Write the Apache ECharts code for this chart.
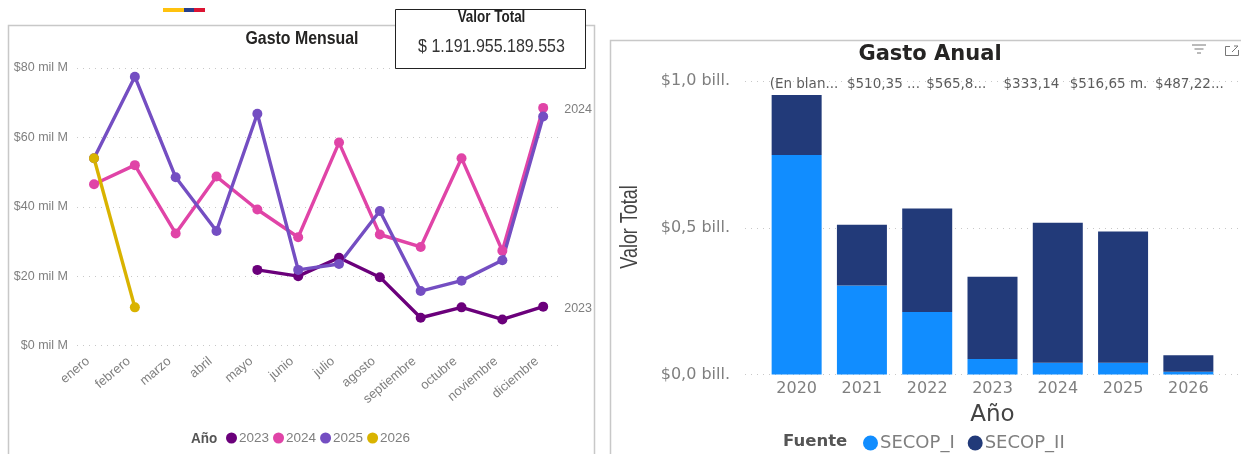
<!DOCTYPE html>
<html><head><meta charset="utf-8">
<style>html,body{margin:0;padding:0;background:#fff}#c{width:1241px;height:454px}</style>
<script src="https://cdn.jsdelivr.net/npm/echarts@6/dist/echarts.min.js"></script>
</head><body><div id="c"></div>
<script>
const months = ['enero','febrero','marzo','abril','mayo','junio','julio','agosto','septiembre','octubre','noviembre','diciembre'];
const gasto2023 = [null,null,null,null,21.8,20,25.3,19.7,8,11,7.5,11.2];
const gasto2024 = [46.5,52,32.3,48.7,39.2,31.2,58.5,32,28.4,54,27.3,68.5];
const gasto2025 = [54,77.5,48.5,33,66.8,21.8,23.5,38.8,15.7,18.7,24.6,66];
const gasto2026 = [54,11,null,null,null,null,null,null,null,null,null,null];
const years = ['2020','2021','2022','2023','2024','2025','2026'];
const secopI = [0.748,0.303,0.213,0.053,0.04,0.04,0.009];
const secopII = [0.204,0.207,0.353,0.28,0.477,0.447,0.057];
const topLabels = ['(En blan...','$510,35 ...','$565,8...','$333,14','$516,65 m.','$487,22...',''];
const topLabelShift = [-27,-15,-1,11,12,32,0];
const sans = '"Liberation Sans",sans-serif';
const wide = '"DejaVu Sans",sans-serif';
const grayT = '#7f7f7f';
const dots = {type:[1,5],color:'#c8c8c8',width:1};

function lineSeries(name, data, color, endLabel){
  return {name, type:'line', xAxisIndex:0, yAxisIndex:0, data, symbol:'circle', symbolSize:10,
    connectNulls:false, lineStyle:{color,width:3.4}, itemStyle:{color},
    endLabel: endLabel ? {show:true, formatter:name, color:grayT, fontFamily:sans, fontSize:12.5, distance:21, offset:[0,2]} : {show:false}};
}
const chart = echarts.init(document.getElementById('c'), null, {renderer:'canvas'});
chart.setOption({
  animation:false,
  graphic:[
    {type:'rect',z:-5,shape:{x:8.5,y:25.5,width:586,height:440},style:{fill:'#fff',stroke:'#c8c8c8',lineWidth:1.5}},
    {type:'rect',z:-5,shape:{x:610.5,y:40.5,width:640,height:430},style:{fill:'#fff',stroke:'#c8c8c8',lineWidth:1.5}},
    {type:'rect',shape:{x:163,y:8,width:21,height:4},style:{fill:'#FFC20E'}},
    {type:'rect',shape:{x:184,y:8,width:10,height:4},style:{fill:'#27408B'}},
    {type:'rect',shape:{x:194,y:8,width:11,height:4},style:{fill:'#DC1433'}},
    {type:'rect',z:20,shape:{x:395.5,y:9.5,width:190,height:59},style:{fill:'#fff',stroke:'#222',lineWidth:1}},
    {type:'text',z:21,x:491.5,y:18,scaleX:0.84,style:{text:'Valor Total',fill:'#222',font:'bold 16px '+sans,align:'center',verticalAlign:'middle'}},
    {type:'text',z:21,x:491.5,y:47,scaleX:0.865,style:{text:'$ 1.191.955.189.553',fill:'#333',font:'18.5px '+sans,align:'center',verticalAlign:'middle'}},
    {type:'text',x:302,y:39,scaleX:0.836,style:{text:'Gasto Mensual',fill:'#252423',font:'bold 19px '+sans,align:'center',verticalAlign:'middle'}},
    {type:'text',x:191,y:438.5,scaleX:0.9,style:{text:'Año',fill:'#555',font:'bold 15px '+sans,verticalAlign:'middle'}},
    {type:'text',x:783,y:442,style:{text:'Fuente',fill:'#555',font:'bold 16.5px '+wide,verticalAlign:'middle'}},
    {type:'text',x:631,y:227,rotation:Math.PI/2,scaleX:0.78,style:{text:'Valor Total',fill:'#444',font:'23px '+sans,align:'center',verticalAlign:'middle'}},
    {type:'polyline',shape:{points:[[1192,45],[1206,45]]},style:{stroke:'#777',lineWidth:1}},
    {type:'polyline',shape:{points:[[1194.5,49],[1203.5,49]]},style:{stroke:'#777',lineWidth:1}},
    {type:'polyline',shape:{points:[[1197,53],[1201,53]]},style:{stroke:'#777',lineWidth:1}},
    {type:'polyline',shape:{points:[[1230,46.5],[1225.5,46.5],[1225.5,55.5],[1238.5,55.5],[1238.5,50]]},style:{fill:'none',stroke:'#777',lineWidth:1}},
    {type:'polyline',shape:{points:[[1232,52],[1238,46],[1234,46]]},style:{fill:'none',stroke:'#777',lineWidth:1}}
  ],
  title:[
    {text:'Gasto Anual',left:925,top:39,textAlign:'center',textStyle:{fontFamily:wide,fontWeight:'bold',fontSize:21,color:'#252423'}}
  ],
  legend:[
    {data:['2023','2024','2025','2026'],left:221,top:426,icon:'circle',itemWidth:11,itemHeight:11,itemGap:4,
      textStyle:{fontFamily:sans,fontSize:13.5,color:grayT,padding:[0,0,0,-3]}},
    {data:['SECOP_I','SECOP_II'],left:858,top:429,icon:'circle',itemWidth:15,itemHeight:15,itemGap:13,
      textStyle:{fontFamily:wide,fontSize:18,color:grayT,padding:[0,0,0,-3]}}
  ],
  grid:[
    {left:73.6,top:68,width:490,height:277.5},
    {left:764,top:81,width:457,height:293.5},
    {left:77,top:68,width:481,height:277.5},
    {left:745,top:81,width:496,height:293.5}
  ],
  xAxis:[
    {type:'category',gridIndex:0,data:months,axisLine:{show:false},axisTick:{show:false},
      axisLabel:{rotate:40,fontFamily:sans,fontSize:13,color:grayT,margin:9,interval:0,padding:[0,8,0,0]}},
    {type:'category',gridIndex:1,data:years,axisLine:{show:false},axisTick:{show:false},
      axisLabel:{fontFamily:wide,fontSize:16,color:grayT,margin:6,interval:0},
      name:'Año',nameLocation:'middle',nameGap:29,nameTextStyle:{fontFamily:wide,fontSize:23,color:'#444'}},
    {type:'value',gridIndex:2,show:false,min:0,max:1},
    {type:'value',gridIndex:3,show:false,min:0,max:1}
  ],
  yAxis:[
    {type:'value',gridIndex:0,min:0,max:80,interval:20,show:false},
    {type:'value',gridIndex:1,min:0,max:1,interval:0.5,show:false},
    {type:'value',gridIndex:2,min:0,max:80,interval:20,axisLine:{show:false},axisTick:{show:false},
      splitLine:{lineStyle:dots},
      axisLabel:{formatter:v=>'$'+v+' mil M',fontFamily:sans,fontSize:12.5,color:grayT,margin:9}},
    {type:'value',gridIndex:3,min:0,max:1,interval:0.5,axisLine:{show:false},axisTick:{show:false},
      splitLine:{lineStyle:dots},
      axisLabel:{formatter:v=>'$'+v.toFixed(1).replace('.',',')+' bill.',fontFamily:wide,fontSize:16,color:grayT,margin:15}}
  ],
  series:[
    lineSeries('2023',gasto2023,'#6B007B',true),
    lineSeries('2024',gasto2024,'#E044A7',true),
    lineSeries('2025',gasto2025,'#744EC2',false),
    lineSeries('2026',gasto2026,'#D9B300',false),
    {name:'SECOP_I',type:'bar',stack:'t',xAxisIndex:1,yAxisIndex:1,data:secopI,barWidth:50,itemStyle:{color:'#118DFF'}},
    {name:'SECOP_II',type:'bar',stack:'t',xAxisIndex:1,yAxisIndex:1,data:secopII,barWidth:50,itemStyle:{color:'#223A79'}},
    {name:'Totales',type:'scatter',xAxisIndex:1,yAxisIndex:1,symbolSize:1,silent:true,z:10,
      itemStyle:{color:'rgba(0,0,0,0)'},
      data:years.map((y,i)=>({value:[y,0.993],label:{offset:[topLabelShift[i],1]}})),
      label:{show:true,position:'inside',align:'left',verticalAlign:'middle',formatter:p=>topLabels[p.dataIndex],fontFamily:wide,fontSize:13.5,color:'#333'}}
  ]
});
</script></body></html>
